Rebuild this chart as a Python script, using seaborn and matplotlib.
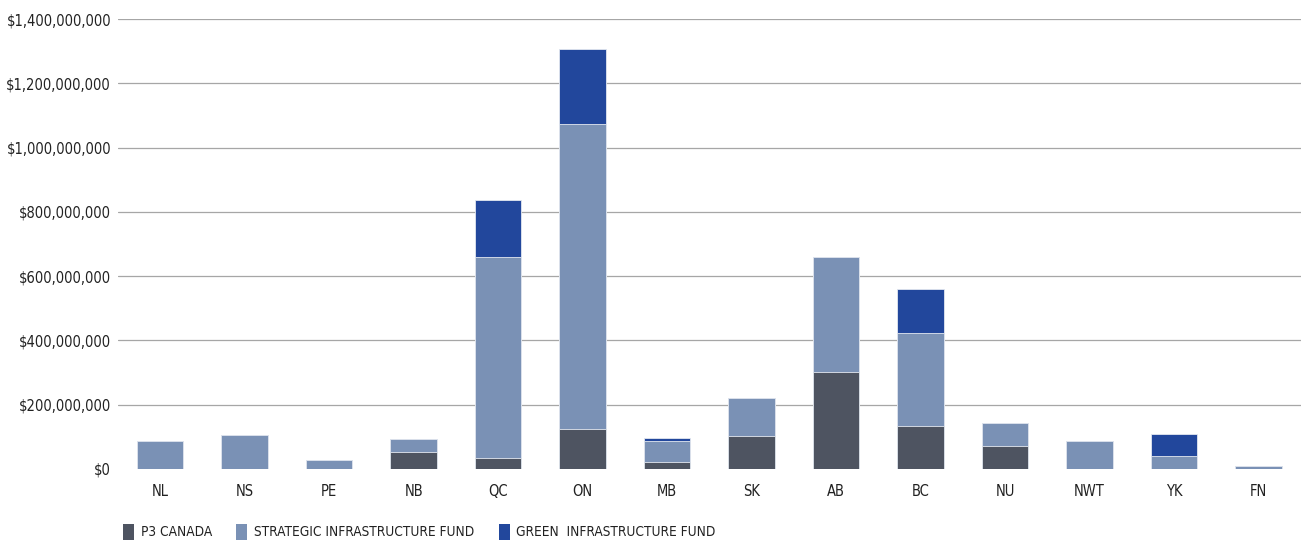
import matplotlib
matplotlib.use("Agg")
import matplotlib.pyplot as plt
import seaborn as sns
import numpy as np
import pandas as pd
from matplotlib.patches import Patch
from matplotlib.ticker import FuncFormatter

provinces = ["NL", "NS", "PE", "NB", "QC", "ON", "MB", "SK", "AB", "BC",
             "NU", "NWT", "YK", "FN"]
# values in $ millions
p3_canada = [0, 0, 0, 53, 34, 124, 22, 101, 300, 134, 72, 0, 0, 0]
strategic = [85, 105, 26, 39, 626, 949, 64, 120, 358, 288, 71, 85, 40, 7]
green = [0, 0, 0, 0, 178, 233, 11, 0, 0, 139, 0, 0, 68, 0]
series_names = ["P3 CANADA", "STRATEGIC INFRASTRUCTURE FUND",
                "GREEN  INFRASTRUCTURE FUND"]
colors = ["#4e5461", "#7a91b5", "#22479c"]

df = pd.DataFrame({"province": provinces,
                   "p3": np.array(p3_canada) * 1e6,
                   "strategic": np.array(strategic) * 1e6,
                   "green": np.array(green) * 1e6})
df["lvl1"] = df["p3"]
df["lvl2"] = df["p3"] + df["strategic"]
df["lvl3"] = df["lvl2"] + df["green"]

sns.set_theme(style="white")
plt.rcParams["font.family"] = ["DejaVu Sans"]
plt.rcParams["font.stretch"] = "condensed"

fig = plt.figure(figsize=(13.01, 5.42), dpi=100)
ax = fig.add_axes([0.0907, 0.1352, 0.909, 0.8292])

# stacked by overlaying cumulative totals
for col, c in zip(["lvl3", "lvl2", "lvl1"], colors[::-1]):
    sns.barplot(data=df, x="province", y=col, color=c, width=0.55,
                edgecolor="#e3e8f0", linewidth=0.6, saturation=1, ax=ax)

ax.set_ylim(0, 1.4e9)
ax.set_xlim(-0.5, len(provinces) - 0.5)
ax.set_yticks(np.arange(0, 1.41e9, 2e8))
ax.yaxis.set_major_formatter(FuncFormatter(lambda v, p: "${:,.0f}".format(v)))
ax.grid(axis="y", color="#a6a6a6", linewidth=0.9)
ax.get_ygridlines()[0].set_visible(False)
ax.set_axisbelow(True)
for s in ax.spines.values():
    s.set_visible(False)
ax.set_xlabel("")
ax.set_ylabel("")
ax.tick_params(axis="both", length=0, labelsize=10.5, colors="#222222")
ax.tick_params(axis="x", pad=11)
ax.tick_params(axis="y", pad=5)

handles = [Patch(facecolor=c, edgecolor="none") for c in colors]
fig.legend(handles, series_names, loc="lower left", bbox_to_anchor=(0.085, -0.018),
           ncol=3, frameon=False, fontsize=9.8, handlelength=0.8,
           handleheight=1.4, handletextpad=0.5, columnspacing=1.8,
           labelcolor="#222222")

fig.savefig("out.png", dpi=100)
